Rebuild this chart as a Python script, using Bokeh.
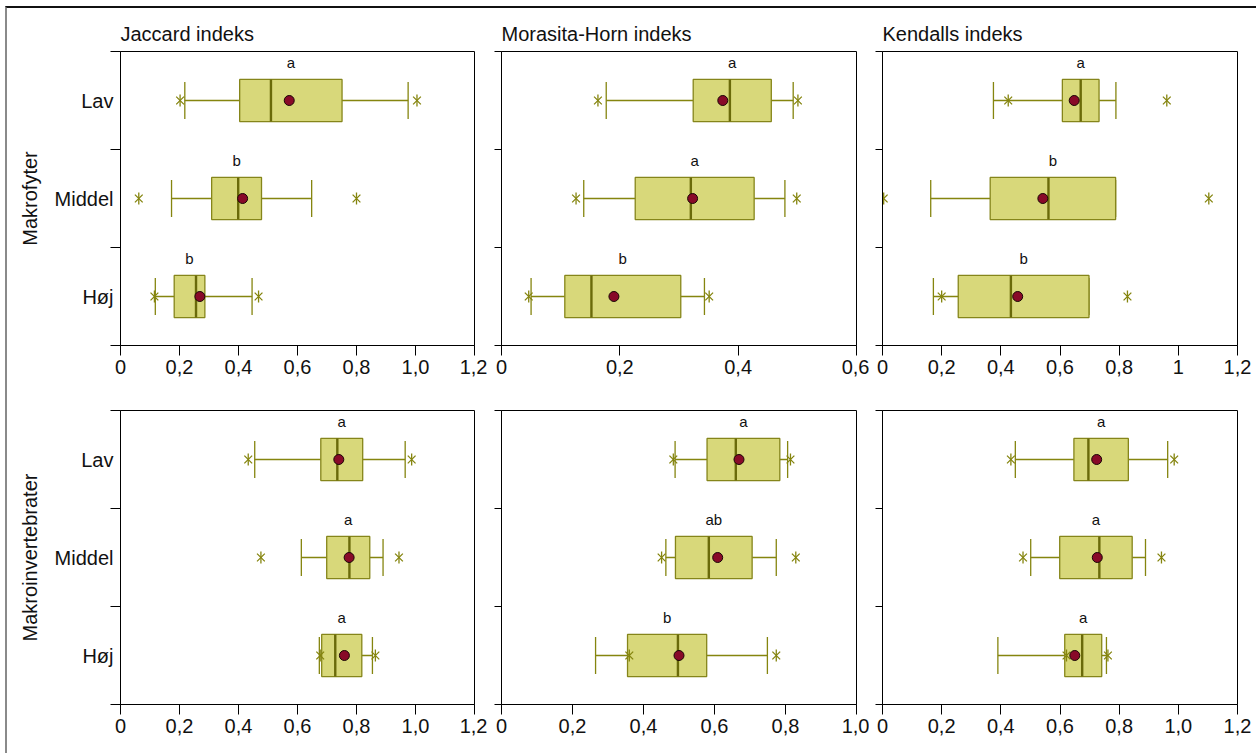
import math

from bokeh.core.properties import value
from bokeh.embed import file_html
from bokeh.layouts import column, row
from bokeh.models import FixedTicker, Range1d
from bokeh.plotting import figure
from bokeh.resources import INLINE

# ---------------------------------------------------------------------------
# Data: one entry per group, ordered bottom -> top (Høj, Middel, Lav)
# ---------------------------------------------------------------------------
groups = ["Høj", "Middel", "Lav"]

# Makrofyter - Jaccard indeks
mf_jac_wlo = [0.118, 0.173, 0.218]
mf_jac_q1 = [0.182, 0.309, 0.404]
mf_jac_med = [0.256, 0.399, 0.510]
mf_jac_q3 = [0.286, 0.478, 0.751]
mf_jac_whi = [0.446, 0.648, 0.975]
mf_jac_mean = [0.269, 0.414, 0.572]
mf_jac_out = [[0.115, 0.468], [0.062, 0.800], [0.202, 1.005]]
mf_jac_sig = ["b", "b", "a"]

# Makrofyter - Morasita-Horn indeks
mf_mh_wlo = [0.050, 0.139, 0.177]
mf_mh_q1 = [0.107, 0.226, 0.324]
mf_mh_med = [0.152, 0.320, 0.386]
mf_mh_q3 = [0.303, 0.427, 0.456]
mf_mh_whi = [0.343, 0.479, 0.493]
mf_mh_mean = [0.190, 0.323, 0.374]
mf_mh_out = [[0.046, 0.351], [0.126, 0.499], [0.163, 0.501]]
mf_mh_sig = ["b", "a", "a"]

# Makrofyter - Kendalls indeks
mf_ken_wlo = [0.172, 0.163, 0.375]
mf_ken_q1 = [0.256, 0.364, 0.608]
mf_ken_med = [0.434, 0.561, 0.670]
mf_ken_q3 = [0.698, 0.788, 0.732]
mf_ken_whi = [0.698, 0.788, 0.789]
mf_ken_mean = [0.457, 0.542, 0.648]
mf_ken_out = [[0.200, 0.828], [0.004, 1.103], [0.425, 0.961]]
mf_ken_sig = ["b", "b", "a"]

# Makroinvertebrater - Jaccard indeks
mi_jac_wlo = [0.674, 0.613, 0.455]
mi_jac_q1 = [0.682, 0.699, 0.679]
mi_jac_med = [0.728, 0.776, 0.735]
mi_jac_q3 = [0.818, 0.845, 0.821]
mi_jac_whi = [0.854, 0.890, 0.965]
mi_jac_mean = [0.759, 0.775, 0.740]
mi_jac_out = [[0.677, 0.864], [0.476, 0.944], [0.433, 0.987]]
mi_jac_sig = ["a", "a", "a"]

# Makroinvertebrater - Morasita-Horn indeks
mi_mh_wlo = [0.265, 0.463, 0.489]
mi_mh_q1 = [0.355, 0.490, 0.579]
mi_mh_med = [0.497, 0.584, 0.660]
mi_mh_q3 = [0.578, 0.706, 0.784]
mi_mh_whi = [0.749, 0.774, 0.806]
mi_mh_mean = [0.500, 0.609, 0.669]
mi_mh_out = [[0.360, 0.774], [0.451, 0.829], [0.484, 0.814]]
mi_mh_sig = ["b", "ab", "a"]

# Makroinvertebrater - Kendalls indeks
mi_ken_wlo = [0.390, 0.501, 0.449]
mi_ken_q1 = [0.616, 0.599, 0.647]
mi_ken_med = [0.675, 0.733, 0.696]
mi_ken_q3 = [0.741, 0.844, 0.831]
mi_ken_whi = [0.757, 0.889, 0.964]
mi_ken_mean = [0.650, 0.726, 0.724]
mi_ken_out = [[0.622, 0.762], [0.475, 0.943], [0.434, 0.986]]
mi_ken_sig = ["a", "a", "a"]

# Axis ticks and their labels
ticks_12 = [0.0, 0.2, 0.4, 0.6, 0.8, 1.0, 1.2]
labels_12 = ["0", "0,2", "0,4", "0,6", "0,8", "1,0", "1,2"]
labels_12_short = ["0", "0,2", "0,4", "0,6", "0,8", "1", "1,2"]
ticks_06 = [0.0, 0.2, 0.4, 0.6]
labels_06 = ["0", "0,2", "0,4", "0,6"]
ticks_10 = [0.0, 0.2, 0.4, 0.6, 0.8, 1.0]
labels_10 = ["0", "0,2", "0,4", "0,6", "0,8", "1,0"]

titles = ["Jaccard indeks", "Morasita-Horn indeks", "Kendalls indeks"]
row_labels = ["Makrofyter", "Makroinvertebrater"]

# ---------------------------------------------------------------------------
# Styling
# ---------------------------------------------------------------------------
FONT = "Liberation Sans"
BOX_FILL = "#d8d87a"
BOX_LINE = "#85851a"
WHISKER = "#85850f"
MEDIAN = "#6a6a0a"
MEAN_FILL = "#880a28"
FRAME_H = 294
BOX_H = 0.43
CAP_H = 0.38


def make_panel(wlo, q1, med, q3, whi, mean, out, sig, xticks, xlabels,
               width, left, right, top, bottom, title=None, ylabel=None,
               ytick_out=7):
    p = figure(
        width=width, height=top + FRAME_H + bottom,
        x_range=Range1d(0, xticks[-1]), y_range=Range1d(0, 3),
        output_backend="svg", toolbar_location=None,
        min_border_left=left, min_border_right=right,
        min_border_top=top, min_border_bottom=bottom,
    )
    p.outline_line_color = "black"
    p.outline_line_width = 1
    p.xgrid.visible = False
    p.ygrid.visible = False
    p.background_fill_color = "white"
    p.border_fill_color = "white"

    if title:
        p.title.text = title
        p.title.align = "left"
        p.title.offset = 0
        p.title.standoff = 13
        p.title.text_font = FONT
        p.title.text_font_size = "20px"
        p.title.text_font_style = "normal"
        p.title.text_color = "#111111"

    # x axis
    xa = p.xaxis[0]
    xa.ticker = FixedTicker(ticks=xticks, minor_ticks=[])
    xa.major_label_overrides = dict(zip(xticks, xlabels))
    xa.major_tick_out = 10
    xa.major_tick_in = 0
    xa.minor_tick_line_color = None
    xa.major_label_standoff = 4
    xa.major_label_text_font = FONT
    xa.major_label_text_font_size = "20px"
    xa.major_label_text_color = "#111111"
    xa.axis_line_color = "black"

    # y axis: group names centred in each band, tick marks on band borders
    ys = [i + 0.5 for i in range(len(groups))]
    ya = p.yaxis[0]
    ya.ticker = FixedTicker(ticks=ys, minor_ticks=[0, 1, 2, 3])
    ya.major_tick_line_color = None
    ya.major_tick_out = 0
    ya.major_tick_in = 0
    ya.minor_tick_out = ytick_out
    ya.minor_tick_in = 0
    ya.minor_tick_line_color = "black"
    ya.axis_line_color = "black"
    ya.major_label_text_font = FONT
    ya.major_label_text_color = "#111111"
    if ylabel:
        ya.major_label_overrides = dict(zip(ys, groups))
        ya.major_label_text_font_size = "20px"
        ya.major_label_standoff = -3
        ya.axis_label = ylabel
        ya.axis_label_text_font = FONT
        ya.axis_label_text_font_size = "20px"
        ya.axis_label_text_font_style = "normal"
        ya.axis_label_text_color = "#111111"
        ya.axis_label_standoff = 11
    else:
        ya.major_label_overrides = {y: "" for y in ys}
        ya.major_label_text_font_size = "0px"
        ya.major_label_standoff = 0

    # whiskers
    p.segment(x0=wlo, y0=ys, x1=q1, y1=ys, line_color=WHISKER, line_width=1.3)
    p.segment(x0=q3, y0=ys, x1=whi, y1=ys, line_color=WHISKER, line_width=1.3)
    p.segment(x0=wlo, y0=[y - CAP_H / 2 for y in ys], x1=wlo,
              y1=[y + CAP_H / 2 for y in ys], line_color=WHISKER, line_width=1.3)
    p.segment(x0=whi, y0=[y - CAP_H / 2 for y in ys], x1=whi,
              y1=[y + CAP_H / 2 for y in ys], line_color=WHISKER, line_width=1.3)

    # interquartile boxes and medians
    p.hbar(y=ys, left=q1, right=q3, height=BOX_H, fill_color=BOX_FILL,
           line_color=BOX_LINE, line_width=1.3)
    p.segment(x0=med, y0=[y - BOX_H / 2 for y in ys], x1=med,
              y1=[y + BOX_H / 2 for y in ys], line_color=MEDIAN, line_width=2.4)

    # outliers (asterisks)
    ox = [v for pair in out for v in pair]
    oy = [y for y, pair in zip(ys, out) for _ in pair]
    p.scatter(x=ox, y=oy, marker="x", size=11, line_color=WHISKER, line_width=1.3)
    p.scatter(x=ox, y=oy, marker="dash", angle=math.pi / 2, size=12,
              line_color=WHISKER, line_width=1.3)

    # means
    p.scatter(x=mean, y=ys, marker="circle", size=10, fill_color=MEAN_FILL,
              line_color="#1a0505", line_width=1)

    # significance letters above each box
    p.text(x=[(a + b) / 2 for a, b in zip(q1, q3)], y=[y + 0.385 for y in ys],
           text=sig, text_align="center", text_baseline="middle",
           text_font=value(FONT), text_font_size="15px", text_color="#111111")
    return p


TOP_T, TOP_B = 43, 47
BOT_T, BOT_B = 18, 49

f1 = make_panel(mf_jac_wlo, mf_jac_q1, mf_jac_med, mf_jac_q3, mf_jac_whi,
                mf_jac_mean, mf_jac_out, mf_jac_sig, ticks_12, labels_12,
                480, 113, 13, TOP_T, TOP_B, title=titles[0],
                ylabel=row_labels[0], ytick_out=10)
f2 = make_panel(mf_mh_wlo, mf_mh_q1, mf_mh_med, mf_mh_q3, mf_mh_whi,
                mf_mh_mean, mf_mh_out, mf_mh_sig, ticks_06, labels_06,
                382, 14, 13, TOP_T, TOP_B, title=titles[1])
f3 = make_panel(mf_ken_wlo, mf_ken_q1, mf_ken_med, mf_ken_q3, mf_ken_whi,
                mf_ken_mean, mf_ken_out, mf_ken_sig, ticks_12, labels_12_short,
                387, 13, 19, TOP_T, TOP_B, title=titles[2])
f4 = make_panel(mi_jac_wlo, mi_jac_q1, mi_jac_med, mi_jac_q3, mi_jac_whi,
                mi_jac_mean, mi_jac_out, mi_jac_sig, ticks_12, labels_12,
                480, 113, 13, BOT_T, BOT_B, ylabel=row_labels[1], ytick_out=10)
f5 = make_panel(mi_mh_wlo, mi_mh_q1, mi_mh_med, mi_mh_q3, mi_mh_whi,
                mi_mh_mean, mi_mh_out, mi_mh_sig, ticks_10, labels_10,
                382, 14, 13, BOT_T, BOT_B)
f6 = make_panel(mi_ken_wlo, mi_ken_q1, mi_ken_med, mi_ken_q3, mi_ken_whi,
                mi_ken_mean, mi_ken_out, mi_ken_sig, ticks_12, labels_12,
                387, 13, 19, BOT_T, BOT_B)

layout = column(
    row(f1, f2, f3), row(f4, f5, f6),
    margin=(6, 0, 0, 5),
    styles={"border-top": "2px solid #111111", "border-left": "2px solid #8a8a8a"},
)

with open("out.html", "w") as fh:
    fh.write(file_html(layout, INLINE))
